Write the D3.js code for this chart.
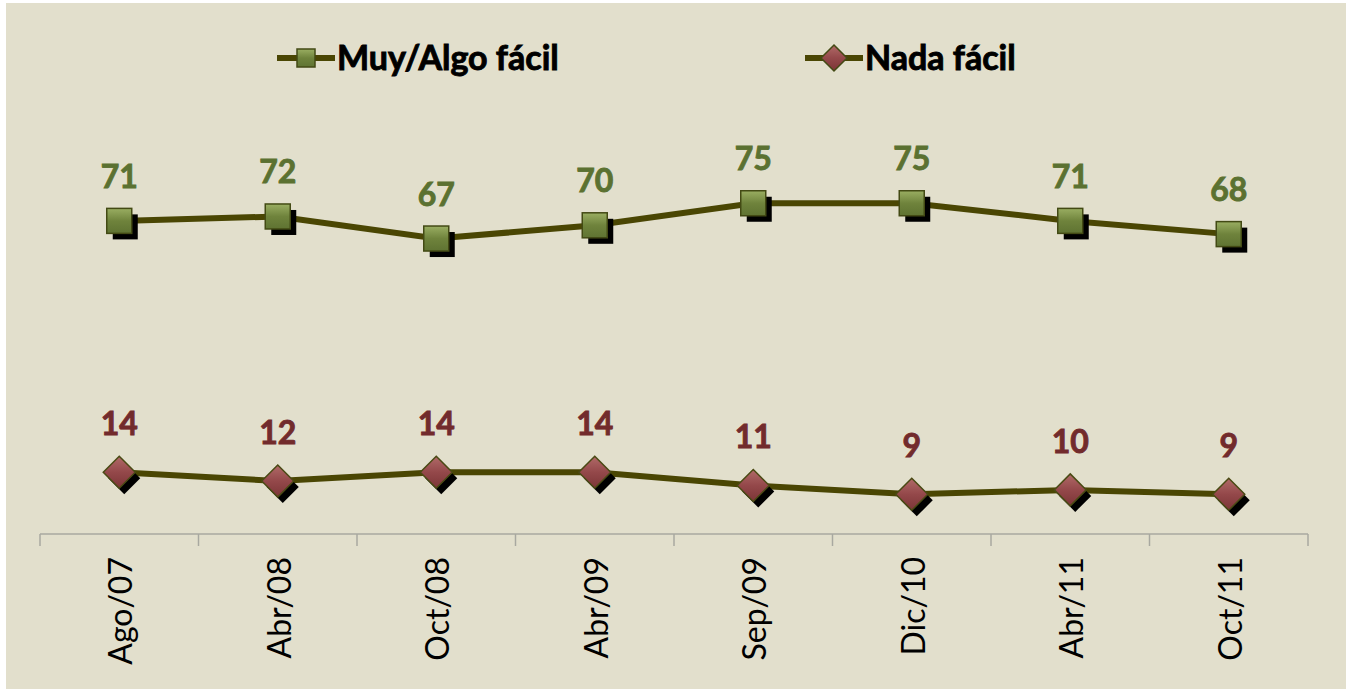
<!DOCTYPE html>
<html>
<head>
<meta charset="utf-8">
<script src="https://cdn.jsdelivr.net/npm/d3@7"></script>
<style>
  body { margin: 0; background: #ffffff; }
  svg { display: block; }
</style>
</head>
<body>
<div id="chart"></div>
<script>
const categories = ["Ago/07", "Abr/08", "Oct/08", "Abr/09", "Sep/09", "Dic/10", "Abr/11", "Oct/11"]
const facil = [71, 72, 67, 70, 75, 75, 71, 68]
const nada = [14, 12, 14, 14, 11, 9, 10, 9]
const seriesNames = ["Muy/Algo fácil", "Nada fácil"]

const width = 1346
const height = 690
const lineColor = "#4a4603"

const svg = d3.select("#chart").append("svg")
    .attr("width", width)
    .attr("height", height)

// fondo
svg.append("rect")
    .attr("x", 6).attr("y", 3)
    .attr("width", width - 6).attr("height", height - 4)
    .attr("fill", "#e2dfcc")

const defs = svg.append("defs")
const gSq = defs.append("linearGradient").attr("id", "gsq").attr("x1", 0).attr("y1", 0).attr("x2", 0).attr("y2", 1)
gSq.append("stop").attr("offset", "0%").attr("stop-color", "#9aae62")
gSq.append("stop").attr("offset", "50%").attr("stop-color", "#6f833c")
gSq.append("stop").attr("offset", "100%").attr("stop-color", "#5f7332")
const gDi = defs.append("linearGradient").attr("id", "gdi").attr("x1", 0).attr("y1", 0).attr("x2", 0).attr("y2", 1)
gDi.append("stop").attr("offset", "0%").attr("stop-color", "#b06a68")
gDi.append("stop").attr("offset", "50%").attr("stop-color", "#94484a")
gDi.append("stop").attr("offset", "100%").attr("stop-color", "#7c3537")

const x = d3.scaleBand().domain(categories).range([40, 1308])
const cx = c => x(c) + x.bandwidth() / 2
const y = d3.scaleLinear().domain([0, 100]).range([534, 93])

// eje x
const axis = svg.append("g").attr("transform", "translate(0,534)")
axis.append("line")
    .attr("x1", 40).attr("x2", 1308)
    .attr("stroke", "#a8a8a0").attr("stroke-width", 1.5)
const bounds = categories.map(c => x(c)).concat([x.range()[1]])
axis.selectAll(".tk").data(bounds).enter().append("line")
    .attr("x1", d => d).attr("x2", d => d)
    .attr("y1", 0).attr("y2", 12)
    .attr("stroke", "#a8a8a0").attr("stroke-width", 1.5)

const labAxis = d3.axisBottom(x).tickSize(0).tickPadding(0)
const axG = svg.append("g").attr("transform", "translate(0,534)").call(labAxis)
axG.select(".domain").remove()
axG.selectAll("text")
    .attr("transform", "rotate(-90)")
    .attr("x", -23).attr("y", 2).attr("dy", "0.35em")
    .attr("text-anchor", "end")
    .style("font-family", "Lato, sans-serif")
    .style("font-size", "32px")
    .style("fill", "#000")

const line = d3.line().x((d, i) => cx(categories[i])).y(d => y(d))

function drawSeries(vals, kind, labColor, labOff) {
    const g = svg.append("g")
    g.append("path").datum(vals)
        .attr("d", line)
        .attr("fill", "none")
        .attr("stroke", lineColor)
        .attr("stroke-width", 6)
    const pts = g.selectAll(".pt").data(vals).enter().append("g")
        .attr("transform", (d, i) => `translate(${cx(categories[i])},${y(d)})`)
    if (kind === "sq") {
        pts.append("rect").attr("x", -12.5 + 6).attr("y", -12.5 + 6)
            .attr("width", 25).attr("height", 25).attr("fill", "#000")
        pts.append("rect").attr("x", -12.5).attr("y", -12.5)
            .attr("width", 25).attr("height", 25)
            .attr("fill", "url(#gsq)").attr("stroke", "#434a14").attr("stroke-width", 1.5)
    } else {
        const dia = "M0,-16L16,0L0,16L-16,0Z"
        pts.append("path").attr("d", dia).attr("transform", "translate(5,6)").attr("fill", "#000")
        pts.append("path").attr("d", dia)
            .attr("fill", "url(#gdi)").attr("stroke", "#4a4a14").attr("stroke-width", 1.5)
    }
    g.selectAll(".lab").data(vals).enter().append("text")
        .attr("x", (d, i) => cx(categories[i]))
        .attr("y", d => y(d) - labOff)
        .attr("text-anchor", "middle")
        .style("font-family", "Lato, sans-serif")
        .style("font-weight", "bold")
        .style("font-size", "32px")
        .style("fill", labColor)
        .style("stroke", labColor)
        .style("stroke-width", 0.9)
        .text(d => d)
}

drawSeries(facil, "sq", "#5b7131", 33)
drawSeries(nada, "di", "#722b2c", 37)

// leyenda
const legend = [
    {name: seriesNames[0], kind: "sq", x: 277},
    {name: seriesNames[1], kind: "di", x: 805}
]
const lg = svg.selectAll(".leg").data(legend).enter().append("g")
    .attr("transform", d => `translate(${d.x},58)`)
lg.append("line").attr("x1", 0).attr("x2", 58)
    .attr("stroke", lineColor).attr("stroke-width", 6)
lg.each(function(d) {
    const s = d3.select(this)
    if (d.kind === "sq") {
        s.append("rect").attr("x", 20).attr("y", -9).attr("width", 18).attr("height", 18)
            .attr("fill", "url(#gsq)").attr("stroke", "#434a14").attr("stroke-width", 1.5)
    } else {
        s.append("path").attr("d", "M29,-13L42,0L29,13L16,0Z")
            .attr("fill", "url(#gdi)").attr("stroke", "#434a14").attr("stroke-width", 1.5)
    }
})
lg.append("text")
    .attr("x", 60).attr("y", 12)
    .style("font-family", "Lato, sans-serif")
    .style("font-weight", "bold")
    .style("font-size", "34px")
    .style("fill", "#000")
    .style("stroke", "#000")
    .style("stroke-width", 0.9)
    .text(d => d.name)
</script>
</body>
</html>
